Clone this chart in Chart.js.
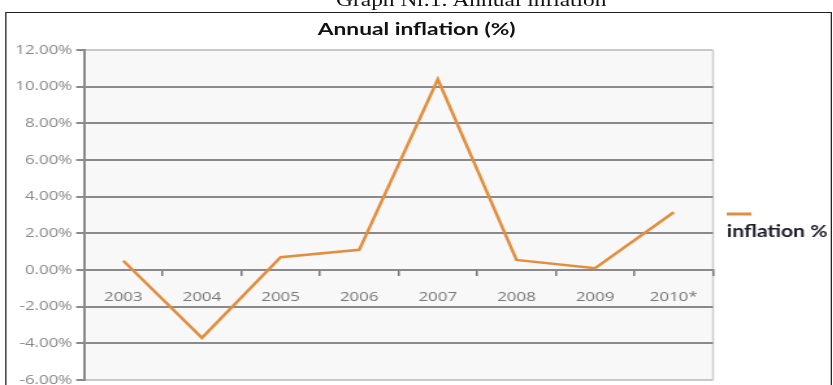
<!DOCTYPE html>
<html>
<head>
<meta charset="utf-8">
<script src="https://cdn.jsdelivr.net/npm/chart.js@4.4.1/dist/chart.umd.min.js"></script>
<style>
  html, body { margin: 0; padding: 0; background: #fff; overflow: hidden; }
  /* the scanned original is stretched sideways, so the whole figure is too */
  #sheet { position: absolute; left: 0; top: 0; width: 641px; height: 385px;
           transform: scaleX(1.3); transform-origin: 0 0; }
  #caption { position: absolute; left: 42px; width: 641px; top: -10px; line-height: 20px;
             text-align: center; font: 18px "Liberation Serif", serif; color: #111; }
  #box { position: absolute; left: 3.8px; top: 12px; width: 634px; height: 380px;
         border: 1.5px solid #222; }
  #title { position: absolute; left: 0; width: 641px; top: 18px; line-height: 22px;
           text-align: center; font: bold 17.5px Lato, sans-serif; color: #111; }
  #chart { position: absolute; left: 0; top: 0; }
</style>
</head>
<body>
<div id="sheet">
  <div id="caption">Graph Nr.1: Annual inflation</div>
  <div id="box"></div>
  <div id="title">Annual inflation (%)</div>
  <canvas id="chart" width="641" height="385"></canvas>
</div>
<script>
const years = ['2003', '2004', '2005', '2006', '2007', '2008', '2009', '2010*'];
const inflation = [0.5, -3.7, 0.7, 1.1, 10.4, 0.55, 0.1, 3.15];
const yTicks = [-6, -4, -2, 0, 2, 4, 6, 8, 10, 12];
const seriesName = 'inflation %';
const lineColor = '#e38e3e';

// light plot background + light frame on the right
const plotBg = {
  id: 'plotBg',
  beforeDraw(chart) {
    const { ctx, chartArea: a } = chart;
    ctx.save();
    ctx.fillStyle = '#f8f8f8';
    ctx.fillRect(a.left, a.top, a.right - a.left, a.bottom - a.top);
    ctx.strokeStyle = '#cfcfcf';
    ctx.lineWidth = 1.5;
    ctx.beginPath();
    ctx.moveTo(a.right, a.top);
    ctx.lineTo(a.right, a.bottom);
    ctx.stroke();
    ctx.restore();
  }
};

// Excel style legend: short line above the label
const sideLegend = {
  id: 'sideLegend',
  afterDraw(chart) {
    const { ctx } = chart;
    const ds = chart.data.datasets[0];
    const x = chart.chartArea.right + 10.5;
    ctx.save();
    ctx.strokeStyle = ds.borderColor;
    ctx.lineWidth = 3;
    ctx.beginPath();
    ctx.moveTo(x, 214);
    ctx.lineTo(x + 19, 214);
    ctx.stroke();
    ctx.fillStyle = '#1c1c28';
    ctx.font = 'bold 16.3px Lato';
    ctx.textBaseline = 'middle';
    ctx.fillText(ds.label, x, 232);
    ctx.restore();
  }
};

new Chart(document.getElementById('chart'), {
  type: 'line',
  data: {
    labels: years,
    datasets: [{
      label: seriesName,
      data: inflation,
      borderColor: lineColor,
      borderWidth: 2.5,
      pointRadius: 0,
      tension: 0
    }]
  },
  options: {
    responsive: false,
    animation: false,
    devicePixelRatio: 1,
    layout: { padding: { left: 0, right: 92.5, top: 50, bottom: 5 } },
    plugins: {
      legend: { display: false },
      tooltip: { enabled: false },
      title: { display: false }
    },
    scales: {
      x: {
        type: 'category',
        position: { y: 0 },
        offset: true,
        afterFit(scale) { scale.height = 0; scale.paddingLeft = 0; scale.paddingRight = 0; },
        grid: { offset: true, drawOnChartArea: false, tickLength: 5, color: '#777', lineWidth: 1.5 },
        border: { display: true, color: '#8a8a8a', width: 2 },
        ticks: { color: '#777', font: { family: 'Open Sans', size: 13 }, padding: 14, maxRotation: 0 }
      },
      y: {
        min: -6,
        max: 12,
        afterBuildTicks(scale) { scale.ticks = yTicks.map(v => ({ value: v })); },
        afterFit(scale) { scale.width = 64.6; scale.paddingTop = 0; scale.paddingBottom = 0; },
        grid: {
          color: c => (c.tick && (c.tick.value === 12 || c.tick.value === -6)) ? '#c8c8c8' : '#8a8a8a',
          lineWidth: 2,
          tickLength: 6,
          tickColor: '#8a8a8a'
        },
        border: { display: true, color: '#8a8a8a', width: 2 },
        ticks: {
          color: '#888',
          font: { family: 'Open Sans', size: 13 },
          padding: 3,
          callback: v => v.toFixed(2) + '%'
        }
      }
    }
  },
  plugins: [plotBg, sideLegend]
});
</script>
</body>
</html>
